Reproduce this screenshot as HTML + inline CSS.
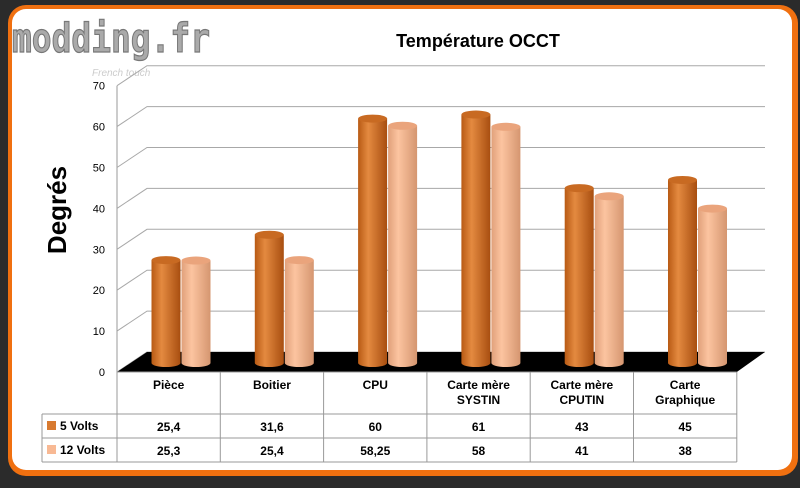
<!DOCTYPE html>
<html><head><meta charset="utf-8"><style>
body{margin:0;width:800px;height:483px;background:#2b2b2b;overflow:hidden;font-family:"Liberation Sans",sans-serif}
</style></head><body>
<svg id="c" width="800" height="483" xmlns="http://www.w3.org/2000/svg">
<defs>
<linearGradient id="go" x1="0" x2="1"><stop offset="0" stop-color="#b85a14"/><stop offset=".35" stop-color="#e48a40"/><stop offset="1" stop-color="#a84e10"/></linearGradient>
<linearGradient id="gp" x1="0" x2="1"><stop offset="0" stop-color="#e0a07a"/><stop offset=".35" stop-color="#fcc4a0"/><stop offset="1" stop-color="#d59670"/></linearGradient>
</defs>
<rect x="8" y="5" width="790" height="471" rx="18" fill="#f07010"/>
<rect x="12" y="9" width="780" height="461" rx="14" fill="#fff"/>
<text x="12" y="52" font-size="40" font-weight="bold" fill="#aaa" stroke="#777" stroke-width="1.2" textLength="198" lengthAdjust="spacingAndGlyphs" font-family="DejaVu Sans Mono, monospace">modding.fr</text>
<text x="92" y="76" font-size="10" font-style="italic" fill="#ccc">French touch</text>
<text x="478" y="47" font-size="18" font-weight="bold" text-anchor="middle" fill="#000">Température OCCT</text>
<text transform="translate(66,210) rotate(-90)" font-size="26" font-weight="bold" text-anchor="middle" fill="#000">Degrés</text>
<g id="g"></g>
</svg>
<script>
const categories=[["Pièce"],["Boitier"],["CPU"],["Carte mère","SYSTIN"],["Carte mère","CPUTIN"],["Carte","Graphique"]];
const series5=[25.4,31.6,60,61,43,45];
const series12=[25.3,25.4,58.25,58,41,38];
const labels5=["25,4","31,6","60","61","43","45"];
const labels12=["25,3","25,4","58,25","58","41","38"];
const ticks=[0,10,20,30,40,50,60,70];
const seriesNames=["5 Volts","12 Volts"];
const NS="http://www.w3.org/2000/svg",g=document.getElementById('g');
function el(t,a,txt){const e=document.createElementNS(NS,t);for(const k in a)e.setAttribute(k,a[k]);if(txt!=null)e.textContent=txt;g.appendChild(e);return e;}
const x0=117,colW=103.3,dx=30,dy=-20;
function yF(v){return 372-v*4.09;}
function xCol(i){return x0+i*colW;}
el('path',{d:`M${x0} ${yF(70)}L${x0} 372`,stroke:'#999',fill:'none'});
ticks.forEach(t=>{
  const y=yF(t);
  const ln=el('path',{d:`M${x0} ${y}L${x0+dx} ${y+dy}L765 ${y+dy}`,stroke:'#a8a8a8',fill:'none'});
  
  
  const tx=el('text',{x:105,y:y+4,'font-size':11,'text-anchor':'end'},String(t));
  
  
});
const fl=el('path',{d:`M${x0} 372L${xCol(6)} 372L765 352L${x0+dx} 352Z`,fill:'#000'});


function cyl(cx,v,fill,top,name){
  const r=14.5,ry=4,yb=363,yt=yF(v)-8;
  const p=el('path',{d:`M${cx-r} ${yt}L${cx-r} ${yb}A${r} ${ry} 0 0 0 ${cx+r} ${yb}L${cx+r} ${yt}Z`,fill:fill});
  
  
  const e=el('ellipse',{cx:cx,cy:yt,rx:r,ry:ry,fill:top});
  
  
}
categories.forEach((c,i)=>{
  cyl(xCol(i)+49,series5[i],'url(#go)','#c86a22','bar-5v');
  cyl(xCol(i)+79,series12[i],'url(#gp)','#eaa47c','bar-12v');
});
const tb=[[x0,372,xCol(6),372],[42,414,xCol(6),414],[42,438,xCol(6),438],[42,462,xCol(6),462],[42,414,42,462]];
tb.forEach(a=>{const l=el('line',{x1:a[0],y1:a[1],x2:a[2],y2:a[3],stroke:'#999'});});
for(let i=0;i<=6;i++){const l=el('line',{x1:xCol(i),y1:372,x2:xCol(i),y2:462,stroke:'#999'});}
categories.forEach((c,i)=>{
  const cx=xCol(i)+colW/2;
  c.forEach((s,j)=>{const t=el('text',{x:cx,y:389+j*15,'font-size':12,'font-weight':'bold','text-anchor':'middle'},s);});
  const a=el('text',{x:cx,y:431,'font-size':12,'font-weight':'bold','text-anchor':'middle'},labels5[i]);
  
  const b=el('text',{x:cx,y:455,'font-size':12,'font-weight':'bold','text-anchor':'middle'},labels12[i]);
  
});
[['#d87a30',426],['#f8b994',450]].forEach((s,k)=>{
  const r=el('rect',{x:47,y:s[1]-5,width:9,height:9,fill:s[0]});
  
  const t=el('text',{x:60,y:s[1]+4,'font-size':12,'font-weight':'bold'},seriesNames[k]);
  
});
</script>
</body></html>
